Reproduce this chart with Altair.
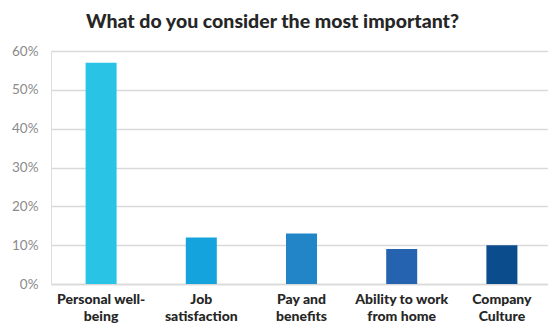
import altair as alt
import pandas as pd

categories = ["Personal well-\nbeing", "Job\nsatisfaction", "Pay and\nbenefits",
              "Ability to work\nfrom home", "Company\nCulture"]
values = [0.57, 0.12, 0.13, 0.09, 0.10]
colors = ["#29C3E5", "#14A3DD", "#2185C8", "#2563B0", "#0B4C8C"]
y_ticks = [0, 0.1, 0.2, 0.3, 0.4, 0.5, 0.6]

df = pd.DataFrame({"cat": categories, "val": values})

chart = alt.Chart(df).mark_bar(size=31).encode(
    x=alt.X("cat:N", sort=categories,
            scale=alt.Scale(range=[0, 501]),
            axis=alt.Axis(title=None, labelAngle=0, ticks=False, domain=True,
                          domainColor="#d9d9d9", domainWidth=1.5,
                          labelExpr="split(datum.label, '\\n')",
                          labelFont="Lato", labelFontWeight=900,
                          labelFontSize=14, labelColor="#262626",
                          labelLineHeight=17.5, labelPadding=8)),
    y=alt.Y("val:Q", scale=alt.Scale(domain=[0, 0.6], nice=False),
            axis=alt.Axis(title=None, format=".0%", values=y_ticks,
                          ticks=False, domain=False, grid=True,
                          gridColor="#d9d9d9", gridWidth=1.5,
                          labelFont="Lato", labelFontSize=13.5,
                          labelColor="#8a8a8a", labelPadding=13)),
    color=alt.Color("cat:N", sort=categories,
                    scale=alt.Scale(domain=categories, range=colors), legend=None),
).properties(
    width=497, height=233,
    title=alt.TitleParams("What do you consider the most important?",
                          font="Lato", fontSize=19.5, fontWeight=900,
                          color="#262626", anchor="middle", offset=12, dx=-27),
    autosize="none",
    padding={"left": 51, "top": 51, "right": 0, "bottom": 44},
).configure_view(stroke=None).configure(background="white")

chart.save("out.html", embed_options={"renderer": "svg", "actions": False})
